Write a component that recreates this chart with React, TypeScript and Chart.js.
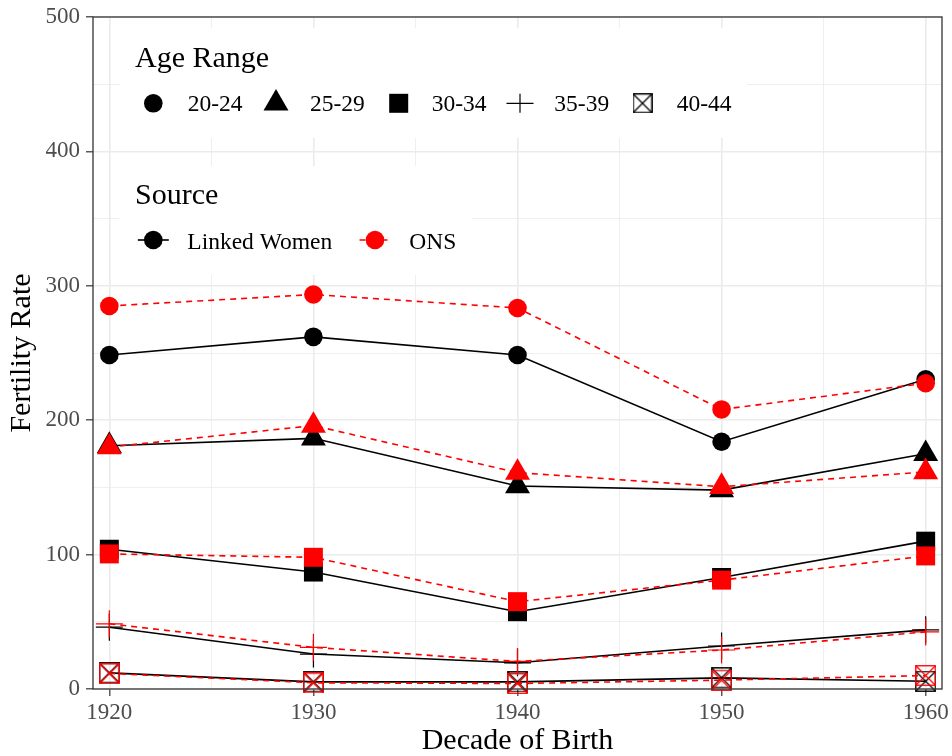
import React, { useEffect, useRef } from 'react';
import { Chart, registerables } from 'chart.js';

Chart.register(...registerables);

// Decade of birth (x) and fertility rates per age range, two sources
const decades = [1920, 1930, 1940, 1950, 1960];
const ageRanges = ['20-24', '25-29', '30-34', '35-39', '40-44'];
const sources = ['Linked Women', 'ONS'];

const linked2024 = [248.5, 262, 248.5, 184, 230.5];
const linked2529 = [181, 186.5, 151, 148, 175];
const linked3034 = [104, 87, 57.5, 83, 110];
const linked3539 = [46, 26, 19.5, 32, 44];
const linked4044 = [12, 5.3, 5.3, 8.3, 5.8];

const ons2024 = [285, 293.5, 283.5, 208, 227.5];
const ons2529 = [180, 196, 161, 150.5, 161.5];
const ons3034 = [100.5, 98, 65, 81, 99];
const ons3539 = [48.5, 31, 20.5, 29, 42.5];
const ons4044 = [11.5, 4.6, 4.1, 6.6, 10];

const X_MIN = 1919.2;
const X_MAX = 1960.8;
const xGridValues = [1920, 1925, 1930, 1935, 1940, 1945, 1950, 1955, 1960];
const yGridValues = [0, 50, 100, 150, 200, 250, 300, 350, 400, 450, 500];

const xTitle = 'Decade of Birth';
const yTitle = 'Fertility Rate';
const ageLegendTitle = 'Age Range';
const sourceLegendTitle = 'Source';

const FONT = '"Liberation Serif", "DejaVu Serif", serif';
const BLACK = '#000000';
const RED = '#FF0000';
const GRID = '#EBEBEB';
const FRAME = '#333333';
const TICK_TEXT = '#4D4D4D';
const NONE = 'rgba(0,0,0,0)';

const sourceColors = [BLACK, RED];
const sourceDash: number[][] = [[], [6, 5]];
const seriesBySource = [
  [linked2024, linked2529, linked3034, linked3539, linked4044],
  [ons2024, ons2529, ons3034, ons3539, ons4044],
];

// square with both diagonals (ggplot shape 7)
function boxedCross(color: string, size = 21): HTMLCanvasElement {
  const c = document.createElement('canvas');
  c.width = size;
  c.height = size;
  const g = c.getContext('2d')!;
  g.strokeStyle = color;
  g.lineWidth = 1.3;
  const p = 0.75;
  g.strokeRect(p, p, size - 2 * p, size - 2 * p);
  g.beginPath();
  g.moveTo(p, p);
  g.lineTo(size - p, size - p);
  g.moveTo(size - p, p);
  g.lineTo(p, size - p);
  g.stroke();
  return c;
}

function pointSpec(ageIndex: number, color: string) {
  switch (ageIndex) {
    case 0:
      return { pointStyle: 'circle' as any, pointRadius: 9.3, pointBorderWidth: 0 };
    case 1:
      return { pointStyle: 'triangle' as any, pointRadius: 14.4, pointBorderWidth: 0 };
    case 2:
      return { pointStyle: 'rect' as any, pointRadius: 13.4, pointBorderWidth: 0 };
    case 3:
      return { pointStyle: 'cross' as any, pointRadius: 13.5, pointBorderWidth: 1.2 };
    default:
      return { pointStyle: boxedCross(color) as any, pointRadius: 10, pointBorderWidth: 0 };
  }
}

// legend key glyphs
function drawKey(ctx: CanvasRenderingContext2D, ageIndex: number, x: number, y: number, color: string) {
  ctx.save();
  ctx.fillStyle = color;
  ctx.strokeStyle = color;
  if (ageIndex === 0) {
    ctx.beginPath();
    ctx.arc(x, y, 9.3, 0, Math.PI * 2);
    ctx.fill();
  } else if (ageIndex === 1) {
    const r = 14.4;
    ctx.beginPath();
    ctx.moveTo(x, y - r);
    ctx.lineTo(x + r * Math.sin((2 * Math.PI) / 3), y + r / 2);
    ctx.lineTo(x - r * Math.sin((2 * Math.PI) / 3), y + r / 2);
    ctx.closePath();
    ctx.fill();
  } else if (ageIndex === 2) {
    const h = 9.5;
    ctx.fillRect(x - h, y - h, 2 * h, 2 * h);
  } else if (ageIndex === 3) {
    ctx.lineWidth = 1.2;
    ctx.beginPath();
    ctx.moveTo(x - 13.5, y);
    ctx.lineTo(x + 13.5, y);
    ctx.moveTo(x, y - 9.5);
    ctx.lineTo(x, y + 9.5);
    ctx.stroke();
  } else {
    const c = boxedCross(color, 20);
    ctx.drawImage(c, x - 10, y - 10);
  }
  ctx.restore();
}

const panelPlugin = {
  id: 'panelFrameAndLegends',
  afterDraw(chart: Chart) {
    const ctx = chart.ctx;
    const { left, top, right, bottom } = chart.chartArea;
    ctx.save();

    // panel border
    ctx.strokeStyle = FRAME;
    ctx.lineWidth = 1.3;
    ctx.strokeRect(left, top, right - left, bottom - top);

    // legend backgrounds
    ctx.fillStyle = '#FFFFFF';
    ctx.fillRect(120, 28, 627, 110);
    ctx.fillRect(119, 166, 353, 109);

    // Age Range legend
    ctx.fillStyle = '#000000';
    ctx.textAlign = 'left';
    ctx.textBaseline = 'alphabetic';
    ctx.font = `30px ${FONT}`;
    ctx.fillText(ageLegendTitle, 135, 67);

    const keyX = [153.3, 276, 398.7, 520, 642.5];
    const labelX = [187.7, 310, 431.7, 554.3, 676.7];
    ctx.font = `23.5px ${FONT}`;
    ageRanges.forEach((label, i) => {
      drawKey(ctx, i, keyX[i], 103.3, BLACK);
      ctx.fillStyle = '#000000';
      ctx.fillText(label, labelX[i], 111);
    });

    // Source legend
    ctx.font = `30px ${FONT}`;
    ctx.fillText(sourceLegendTitle, 135, 204);
    const srcKeyX = [153.3, 375];
    const srcLabelX = [187.3, 409.3];
    ctx.font = `23.5px ${FONT}`;
    sources.forEach((label, i) => {
      const cx = srcKeyX[i];
      const cy = 240;
      ctx.save();
      ctx.strokeStyle = sourceColors[i];
      ctx.lineWidth = 1.6;
      ctx.setLineDash(sourceDash[i]);
      ctx.beginPath();
      ctx.moveTo(cx - 15.5, cy);
      ctx.lineTo(cx + 15.5, cy);
      ctx.stroke();
      ctx.restore();
      ctx.fillStyle = sourceColors[i];
      ctx.beginPath();
      ctx.arc(cx, cy, 9.3, 0, Math.PI * 2);
      ctx.fill();
      ctx.fillStyle = '#000000';
      ctx.fillText(label, srcLabelX[i], 249);
    });

    ctx.restore();
  },
};

export default function App() {
  const canvasRef = useRef<HTMLCanvasElement | null>(null);

  useEffect(() => {
    const canvas = canvasRef.current;
    if (!canvas) return;

    const datasets: any[] = [];
    sources.forEach((src, s) => {
      const color = sourceColors[s];
      seriesBySource[s].forEach((values, a) => {
        datasets.push({
          label: `${src} ${ageRanges[a]}`,
          data: decades.map((d, i) => ({ x: d, y: values[i] })),
          borderColor: color,
          backgroundColor: color,
          borderWidth: 1.6,
          borderDash: sourceDash[s],
          pointBackgroundColor: color,
          pointBorderColor: color,
          ...pointSpec(a, color),
          tension: 0,
          clip: false,
          order: s === 1 ? 0 : 1,
        });
      });
    });

    const isGridX = (v: number) => xGridValues.includes(v);
    const isMajorX = (v: number) => isGridX(v) && v % 10 === 0;
    const isMajorY = (v: number) => v % 100 === 0;

    const chart = new Chart(canvas, {
      type: 'line',
      data: { datasets },
      options: {
        animation: false,
        responsive: false,
        maintainAspectRatio: false,
        layout: { autoPadding: false, padding: { top: 17, right: 10, left: 0, bottom: 0 } },
        plugins: {
          legend: { display: false },
          tooltip: { enabled: false },
        },
        scales: {
          x: {
            type: 'linear',
            min: X_MIN,
            max: X_MAX,
            afterBuildTicks: (scale: any) => {
              // unlabeled end ticks keep the edge labels from shrinking the panel
              scale.ticks = [X_MIN, ...xGridValues, X_MAX].map((v) => ({ value: v }));
            },
            afterFit: (scale: any) => {
              scale.height = 67;
            },
            border: { display: false },
            grid: {
              color: GRID,
              lineWidth: (c: any) => {
                const v = c.tick?.value;
                if (!isGridX(v)) return 0;
                return isMajorX(v) ? 1.6 : 0.8;
              },
              tickColor: (c: any) => (isMajorX(c.tick?.value) ? FRAME : NONE),
              tickLength: 7,
              tickWidth: 1.2,
              drawTicks: true,
            },
            ticks: {
              autoSkip: false,
              maxRotation: 0,
              padding: 3,
              color: TICK_TEXT,
              font: { family: FONT, size: 23 },
              callback: (v: any) => (isMajorX(Number(v)) ? String(v) : ''),
            },
            title: {
              display: true,
              text: xTitle,
              color: '#000000',
              font: { family: FONT, size: 30, lineHeight: 1 },
              padding: { top: 0, bottom: 0 },
            },
          },
          y: {
            type: 'linear',
            min: 0,
            max: 500,
            afterBuildTicks: (scale: any) => {
              scale.ticks = yGridValues.map((v) => ({ value: v }));
            },
            afterFit: (scale: any) => {
              scale.width = 93;
              scale.paddingTop = 0;
              scale.paddingBottom = 0;
            },
            border: { display: false },
            grid: {
              color: GRID,
              lineWidth: (c: any) => (isMajorY(c.tick?.value) ? 1.6 : 0.8),
              tickColor: (c: any) => (isMajorY(c.tick?.value) ? FRAME : NONE),
              tickLength: 7,
              tickWidth: 1.2,
              drawTicks: true,
            },
            ticks: {
              autoSkip: false,
              padding: 6,
              color: TICK_TEXT,
              font: { family: FONT, size: 23 },
              callback: (v: any) => (isMajorY(Number(v)) ? String(v) : ''),
            },
            title: {
              display: true,
              text: yTitle,
              color: '#000000',
              font: { family: FONT, size: 30, lineHeight: 1 },
              padding: { top: 7, bottom: 0 },
            },
          },
        },
      },
      plugins: [panelPlugin],
    });

    return () => chart.destroy();
  }, []);

  return (
    <div style={{ position: 'absolute', left: 0, top: 0, width: 952, height: 756, background: '#FFFFFF' }}>
      <canvas ref={canvasRef} width={952} height={756} style={{ display: 'block' }} />
    </div>
  );
}
